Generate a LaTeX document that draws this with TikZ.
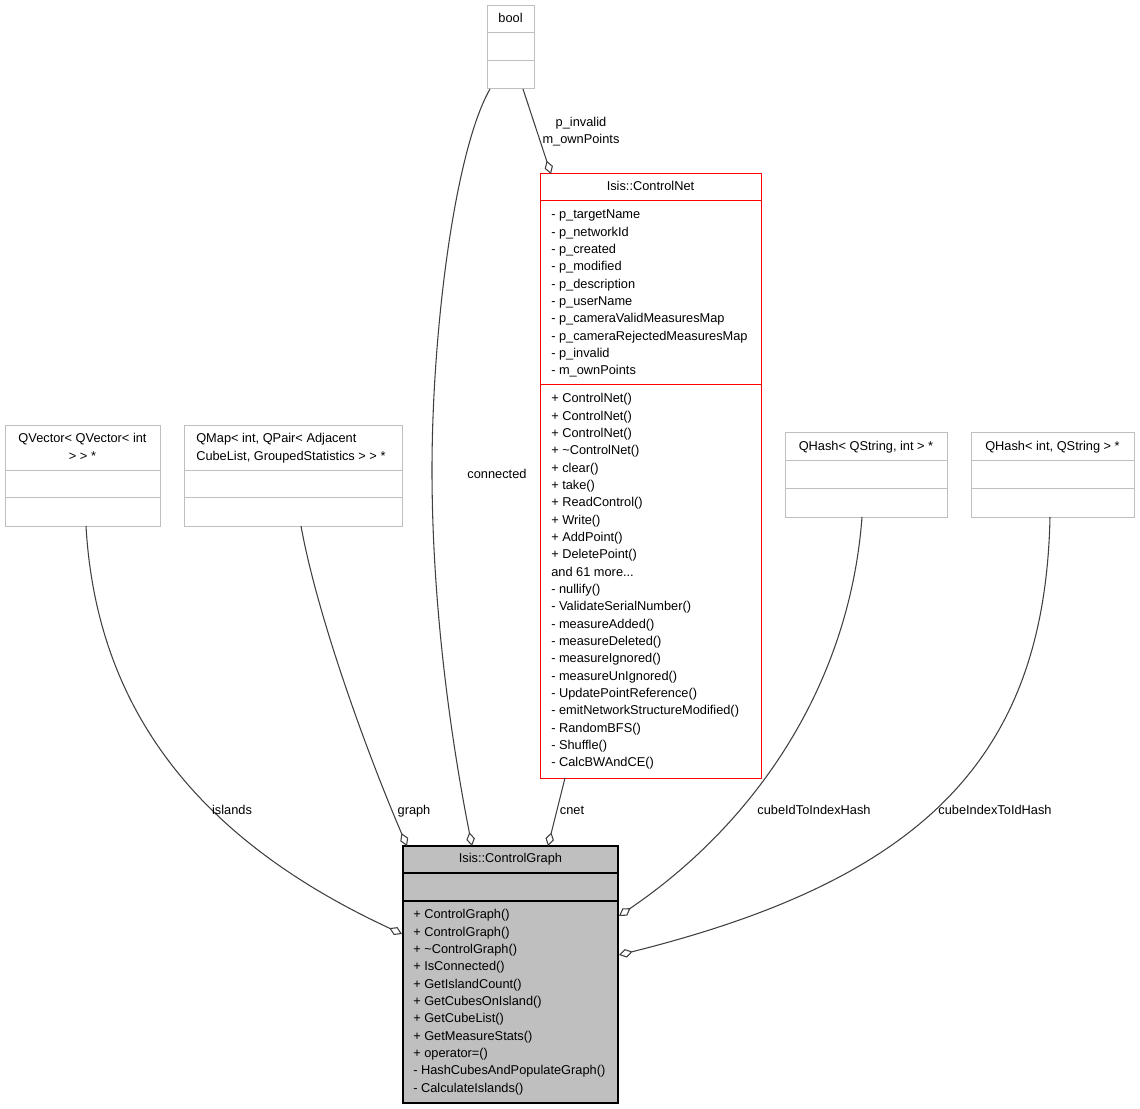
\documentclass[tikz,border=0pt]{standalone}
\usepackage{fontspec}
\setmainfont{Liberation Sans}
\usetikzlibrary{arrows.meta,fit}
\definecolor{boxgray}{HTML}{BFBFBF}
\definecolor{edgegray}{HTML}{404040}
\definecolor{cgfill}{HTML}{BFBFBF}
\definecolor{cnred}{HTML}{FF0000}
\begin{document}
\begin{tikzpicture}[x=0.75pt,y=-0.75pt,
  graybox/.style={draw=boxgray, line width=0.75pt, inner sep=0pt},
  redbox/.style={draw=cnred, line width=0.75pt, inner sep=0pt},
  mainbox/.style={draw=black, fill=cgfill, line width=0.9pt, inner sep=0pt},
  grayline/.style={draw=boxgray, line width=0.75pt},
  redline/.style={draw=cnred, line width=0.75pt},
  mainline/.style={draw=black, line width=0.9pt},
  txt/.style={font=\fontsize{9.6}{13}\selectfont, inner sep=0pt, align=left, text=black},
  ctxt/.style={font=\fontsize{9.6}{13}\selectfont, inner sep=0pt, align=center, text=black},
  conn/.style={draw=edgegray, line width=0.8pt, -{Diamond[fill=white, length=10.5pt, width=6.5pt]}},
  conntail/.style={draw=edgegray, line width=0.8pt},
  elabel/.style={font=\fontsize{9.6}{13}\selectfont, inner sep=0pt, align=center, text=black}
]
\useasboundingbox (0,0) rectangle (1140,1109);

% ---------- bool ----------
\node[graybox, fit={(487,6) (534,89)}] (bool) {};
\draw[grayline] (487,33) -- (534,33);
\draw[grayline] (487,61) -- (534,61);
\node[ctxt, anchor=base] (boolh) at (510.5,22.7) {bool};

% ---------- Isis::ControlNet ----------
\node[redbox, fit={(540,174) (761,778)}] (cn) {};
\draw[redline] (540,201) -- (761,201);
\draw[redline] (540,385) -- (761,385);
\node[ctxt, anchor=base] (cnh) at (650.5,190.7) {Isis::ControlNet};
\node[txt, anchor=base west] (cnattr) at (551,374.7) {%
- p\_targetName\\
- p\_networkId\\
- p\_created\\
- p\_modified\\
- p\_description\\
- p\_userName\\
- p\_cameraValidMeasuresMap\\
- p\_cameraRejectedMeasuresMap\\
- p\_invalid\\
- m\_ownPoints};
\node[txt, anchor=base west] (cnmeth) at (551,766.7) {%
+ ControlNet()\\
+ ControlNet()\\
+ ControlNet()\\
+ \textasciitilde ControlNet()\\
+ clear()\\
+ take()\\
+ ReadControl()\\
+ Write()\\
+ AddPoint()\\
+ DeletePoint()\\
and 61 more...\\
- nullify()\\
- ValidateSerialNumber()\\
- measureAdded()\\
- measureDeleted()\\
- measureIgnored()\\
- measureUnIgnored()\\
- UpdatePointReference()\\
- emitNetworkStructureModified()\\
- RandomBFS()\\
- Shuffle()\\
- CalcBWAndCE()};

% ---------- QVector ----------
\node[graybox, fit={(5,426) (160,526)}] (qv) {};
\draw[grayline] (5,471) -- (160,471);
\draw[grayline] (5,498) -- (160,498);
\node[ctxt, anchor=base] (qvh) at (82.5,460) {QVector< QVector< int\\> > *};

% ---------- QMap ----------
\node[graybox, fit={(184,426) (402,526)}] (qm) {};
\draw[grayline] (184,471) -- (402,471);
\draw[grayline] (184,498) -- (402,498);
\node[txt, anchor=base west] (qmh) at (196,460) {QMap< int, QPair< Adjacent\\CubeList, GroupedStatistics > > *};

% ---------- QHash 1 ----------
\node[graybox, fit={(785,433) (947,517)}] (qh1) {};
\draw[grayline] (785,461) -- (947,461);
\draw[grayline] (785,489) -- (947,489);
\node[ctxt, anchor=base] (qh1h) at (866,450.7) {QHash< QString, int > *};

% ---------- QHash 2 ----------
\node[graybox, fit={(971,433) (1134,517)}] (qh2) {};
\draw[grayline] (971,461) -- (1134,461);
\draw[grayline] (971,489) -- (1134,489);
\node[ctxt, anchor=base] (qh2h) at (1052.5,450.7) {QHash< int, QString > *};

% ---------- Isis::ControlGraph ----------
\node[mainbox, fit={(403,846) (618,1103)}] (cg) {};
\draw[mainline] (403,873) -- (618,873);
\draw[mainline] (403,901) -- (618,901);
\node[ctxt, anchor=base] (cgh) at (510.5,862.7) {Isis::ControlGraph};
\node[txt, anchor=base west] (cgmeth) at (413,1092) {%
+ ControlGraph()\\
+ ControlGraph()\\
+ \textasciitilde ControlGraph()\\
+ IsConnected()\\
+ GetIslandCount()\\
+ GetCubesOnIsland()\\
+ GetCubeList()\\
+ GetMeasureStats()\\
+ operator=()\\
- HashCubesAndPopulateGraph()\\
- CalculateIslands()};

% ---------- connector end points ----------
\coordinate (qvS) at (86,526);
\coordinate (qmS) at (301,526);
\coordinate (boolSL) at (490,89);
\coordinate (boolSR) at (523,89);
\coordinate (cnN) at (551,174);
\coordinate (cnS) at (565,778);
\coordinate (qh1S) at (862,517);
\coordinate (qh2S) at (1050,517);
\coordinate (cgIsl) at (402,934);
\coordinate (cgGraph) at (407,846);
\coordinate (cgConn) at (472,846);
\coordinate (cgCnet) at (548,846);
\coordinate (cgId) at (619,916);
\coordinate (cgIdx) at (619,955);
\coordinate (connMid) at (432,470);

% ---------- connectors ----------
\draw[conn] (qvS) .. controls (97,720) and (210,845) .. (cgIsl);
\draw[conn] (qmS) .. controls (318,620) and (370,760) .. (cgGraph);
\draw[conntail] (boolSL) .. controls (455,150) and (432,330) .. (connMid);
\draw[conn] (connMid) .. controls (432,620) and (455,760) .. (cgConn);
\draw[conn] (boolSR) -- (cnN);
\draw[conn] (cnS) -- (cgCnet);
\draw[conn] (qh1S) .. controls (850,680) and (760,820) .. (cgId);
\draw[conn] (qh2S) .. controls (1045,760) and (920,880) .. (cgIdx);

% ---------- connector labels ----------
\node[elabel, anchor=base] (lisl) at (232,814.7) {islands};
\node[elabel, anchor=base] (lgraph) at (414,814.7) {graph};
\node[elabel, anchor=base] (lconn) at (497,478.7) {connected};
\node[elabel, anchor=base] (lcnet) at (572,814.7) {cnet};
\node[elabel, anchor=base] (lid) at (814,814.7) {cubeIdToIndexHash};
\node[elabel, anchor=base] (lidx) at (995,814.7) {cubeIndexToIdHash};
\node[elabel, anchor=base] (lpinv) at (581,144) {p\_invalid\\m\_ownPoints};
\end{tikzpicture}
\end{document}
